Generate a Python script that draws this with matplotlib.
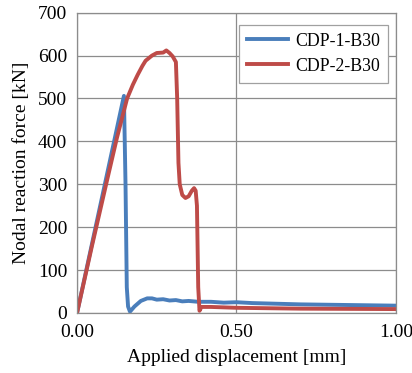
import numpy as np
import matplotlib.pyplot as plt

plt.rcParams['font.family'] = ['Liberation Serif', 'DejaVu Serif']

# displacement [mm] and nodal reaction force [kN]
disp_1 = [0.0, 0.05, 0.10, 0.147, 0.152, 0.156, 0.160, 0.166, 0.18, 0.20, 0.22, 0.235,
          0.25, 0.27, 0.29, 0.31, 0.33, 0.35, 0.38, 0.42, 0.46, 0.50, 0.55, 0.60,
          0.70, 0.80, 0.90, 1.00]
force_1 = [0, 172, 344, 506, 300, 60, 15, 3, 15, 28, 34, 34,
           31, 32, 29, 30, 27, 28, 26, 26, 24, 25, 23, 22,
           20, 19, 18, 17]

disp_2 = [0.0, 0.047, 0.094, 0.125, 0.157, 0.175, 0.19, 0.205, 0.215, 0.235, 0.25,
          0.27, 0.28, 0.29, 0.30, 0.31, 0.314, 0.318, 0.322, 0.33, 0.34, 0.35, 0.36,
          0.367, 0.372, 0.376, 0.38, 0.384, 0.39, 0.42, 0.50, 0.70, 1.00]
force_2 = [0, 157, 309, 408, 500, 532, 555, 576, 588, 600, 606,
           607, 612, 606, 598, 585, 500, 350, 300, 275, 268, 272, 285,
           291, 285, 250, 60, 5, 14, 14, 12, 10, 9]

fig = plt.figure(figsize=(4.12, 3.73), dpi=100)
ax = fig.add_axes([0.187, 0.161, 0.774, 0.805])

ax.plot(disp_1, force_1, color='#4A7EBB', lw=2.8, label='CDP-1-B30', solid_joinstyle='round')
ax.plot(disp_2, force_2, color='#BE4B48', lw=2.8, label='CDP-2-B30', solid_joinstyle='round')

ax.set_xlim(0, 1.0)
ax.set_ylim(0, 700)
ax.set_xticks([0.0, 0.5, 1.0])
ax.set_xticklabels(['0.00', '0.50', '1.00'])
ax.set_yticks(np.arange(0, 701, 100))
ax.grid(True, color='#8c8c8c', lw=0.9)
ax.set_axisbelow(True)
for s in ax.spines.values():
    s.set_color('#8c8c8c')
    s.set_linewidth(0.9)
ax.tick_params(length=0, labelsize=14)
ax.tick_params(axis='y', pad=7)
ax.tick_params(axis='x', pad=8)

ax.set_xlabel('Applied displacement [mm]', fontsize=14, labelpad=6)
ax.set_ylabel('Nodal reaction force [kN]', fontsize=14, labelpad=6)

leg = ax.legend(loc='upper right', fontsize=12.8, frameon=True, fancybox=False,
                edgecolor='#a0a0a0', framealpha=1, handlelength=2.3,
                handletextpad=0.4, borderpad=0.45, labelspacing=0.45,
                bbox_to_anchor=(0.975, 0.96), borderaxespad=0)
leg.get_frame().set_linewidth(0.9)

fig.savefig('out.png', dpi=100)
